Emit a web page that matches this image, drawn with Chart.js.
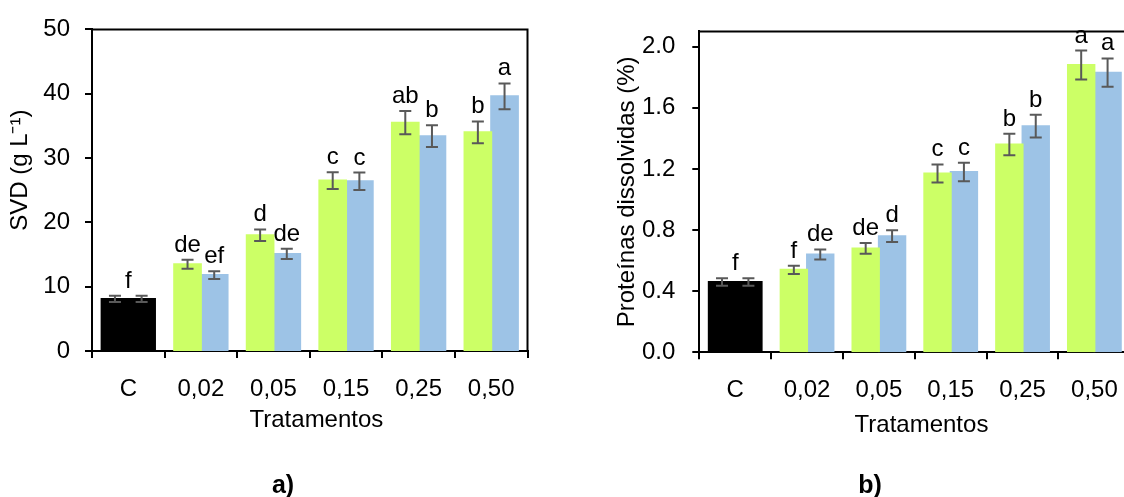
<!DOCTYPE html>
<html>
<head>
<meta charset="utf-8">
<script src="https://cdn.jsdelivr.net/npm/chart.js@4.4.1/dist/chart.umd.min.js"></script>
<style>
  body { margin: 0; width: 1124px; height: 497px; overflow: hidden; background: #fff; position: relative; font-family: "Liberation Sans", Arial, sans-serif; }
  canvas { position: absolute; top: 0; }
  .painel { position: absolute; font-weight: bold; font-size: 25px; transform: translate(-50%, -50%); }
</style>
</head>
<body>
<canvas id="chartSVD" width="560" height="497" style="left:0"></canvas>
<canvas id="chartProt" width="590" height="497" style="left:560px"></canvas>
<div class="painel" style="left:283px;top:484px">a)</div>
<div class="painel" style="left:870px;top:484px">b)</div>
<script>
const tratamentos = ['C', '0,02', '0,05', '0,15', '0,25', '0,50'];

// a) SVD
const svdVerde = [8.1, 13.5, 18.0, 26.5, 35.5, 34.0];
const svdVerdeErro = [0.5, 0.7, 0.9, 1.3, 1.8, 1.7];
const svdVerdeLetras = ['f', 'de', 'd', 'c', 'ab', 'b'];
const svdAzul = [8.1, 11.8, 15.1, 26.4, 33.4, 39.6];
const svdAzulErro = [0.5, 0.6, 0.8, 1.35, 1.7, 2.0];
const svdAzulLetras = ['', 'ef', 'de', 'c', 'b', 'a'];
const svdTicks = [0, 10, 20, 30, 40, 50];

// b) Proteínas dissolvidas
const protVerde = [0.46, 0.54, 0.68, 1.17, 1.36, 1.88];
const protVerdeErro = [0.024, 0.027, 0.035, 0.059, 0.07, 0.095];
const protVerdeLetras = ['f', 'f', 'de', 'c', 'b', 'a'];
const protAzul = [0.46, 0.64, 0.76, 1.18, 1.48, 1.83];
const protAzulErro = [0.024, 0.033, 0.038, 0.061, 0.074, 0.093];
const protAzulLetras = ['', 'de', 'd', 'c', 'b', 'a'];
const protTicks = [0, 0.4, 0.8, 1.2, 1.6, 2.0];

const VERDE = '#ccff66';
const AZUL = '#9dc3e6';
const fonte = { family: '"Liberation Sans", Arial, sans-serif', size: 24 };

// barras de erro, letras e moldura superior/direita
const barrasErro = {
    id: 'barrasErro',
    afterDatasetsDraw(chart) {
        const ctx = chart.ctx;
        const y = chart.scales.y;
        ctx.save();
        chart.data.datasets.forEach((ds, i) => {
            chart.getDatasetMeta(i).data.forEach((bar, j) => {
                const topo = y.getPixelForValue(ds.data[j] + ds.erros[j]);
                const base = y.getPixelForValue(ds.data[j] - ds.erros[j]);
                ctx.strokeStyle = '#595959';
                ctx.lineWidth = 2;
                ctx.beginPath();
                ctx.moveTo(bar.x, topo); ctx.lineTo(bar.x, base);
                ctx.moveTo(bar.x - 6, topo); ctx.lineTo(bar.x + 6, topo);
                ctx.moveTo(bar.x - 6, base); ctx.lineTo(bar.x + 6, base);
                ctx.stroke();

                const letra = ds.letras[j];
                if (letra) {
                    let lx = bar.x;
                    // controle: uma letra so, no meio da barra preta
                    if (j === 0) lx = (bar.x + chart.getDatasetMeta(1).data[0].x) / 2;
                    ctx.fillStyle = '#000';
                    ctx.font = fonte.size + 'px ' + fonte.family;
                    ctx.textAlign = 'center';
                    ctx.textBaseline = 'alphabetic';
                    ctx.fillText(letra, lx, topo - 8);
                }
            });
        });
        const a = chart.chartArea;
        ctx.strokeStyle = '#000';
        ctx.lineWidth = 2;
        ctx.beginPath();
        ctx.moveTo(a.left, a.top);
        ctx.lineTo(a.right, a.top);
        ctx.lineTo(a.right, a.bottom);
        ctx.stroke();
        ctx.restore();
    }
};

function criarGrafico(id, cfg) {
    const cores = c => tratamentos.map((t, i) => i === 0 ? '#000' : c);
    return new Chart(document.getElementById(id), {
        type: 'bar',
        data: {
            labels: tratamentos,
            datasets: [
                { data: cfg.verde, erros: cfg.verdeErro, letras: cfg.verdeLetras, backgroundColor: cores(VERDE) },
                { data: cfg.azul, erros: cfg.azulErro, letras: cfg.azulLetras, backgroundColor: cores(AZUL) }
            ]
        },
        options: {
            responsive: false,
            animation: false,
            categoryPercentage: 0.735,
            barPercentage: 1,
            inflateAmount: 1,
            layout: { padding: cfg.padding },
            plugins: { legend: { display: false }, tooltip: { enabled: false } },
            scales: {
                x: {
                    afterFit: s => { s.height = 100; },
                    grid: { offset: true, drawOnChartArea: false, tickLength: 7, color: '#000', lineWidth: 2 },
                    border: { color: '#000', width: 2 },
                    ticks: { color: '#000', font: fonte, padding: 17 },
                    title: { display: true, text: '  Tratamentos', color: '#000', font: fonte, padding: { top: 0, bottom: cfg.xTitlePad } }
                },
                y: {
                    min: 0,
                    max: cfg.max,
                    afterFit: s => { s.width = cfg.yWidth; },
                    afterBuildTicks: s => { s.ticks = cfg.ticks.map(v => ({ value: v })); },
                    grid: { drawOnChartArea: false, tickLength: 7, color: '#000', lineWidth: 2 },
                    border: { color: '#000', width: 2 },
                    ticks: { color: '#000', font: fonte, padding: cfg.tickPad, callback: cfg.formato },
                    title: { display: true, text: cfg.titulo, color: '#000', font: fonte, padding: { top: cfg.yTitlePad, bottom: 0 } }
                }
            }
        },
        plugins: [barrasErro]
    });
}

criarGrafico('chartSVD', {
    verde: svdVerde, verdeErro: svdVerdeErro, verdeLetras: svdVerdeLetras,
    azul: svdAzul, azulErro: svdAzulErro, azulLetras: svdAzulLetras,
    ticks: svdTicks, max: 50, formato: v => v,
    titulo: '      SVD (g L\u207B\u00B9)',
    padding: { left: 0, top: 26, right: 32.5, bottom: 46 },
    yWidth: 92, tickPad: 15, yTitlePad: 6, xTitlePad: 16
});

criarGrafico('chartProt', {
    verde: protVerde, verdeErro: protVerdeErro, verdeLetras: protVerdeLetras,
    azul: protAzul, azulErro: protAzulErro, azulLetras: protAzulLetras,
    ticks: protTicks, max: 2.1, formato: v => Number(v).toFixed(1),
    titulo: 'Proteínas dissolvidas (%)',
    padding: { left: 0, top: 27.3, right: 19.7, bottom: 44.7 },
    yWidth: 139.3, tickPad: 17, yTitlePad: 53, xTitlePad: 13
});
</script>
</body>
</html>
